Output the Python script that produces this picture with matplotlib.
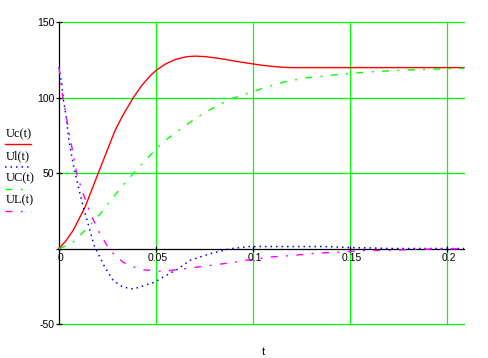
import matplotlib
matplotlib.use('Agg')
import matplotlib.pyplot as plt
import matplotlib.transforms as mtransforms
from matplotlib.lines import Line2D

# values
t_uc = [0, 0.0035, 0.0073, 0.0134, 0.0202, 0.0288, 0.0330, 0.0382, 0.0425, 0.0468, 0.0502,
        0.0550, 0.0600, 0.0656, 0.0700, 0.0750, 0.0800, 0.0850, 0.0900, 0.0950, 0.1000,
        0.1050, 0.1100, 0.1150, 0.1200, 0.1500, 0.2085]
uc = [0, 5, 12, 27.4, 49.9, 78, 88.5, 99.8, 107.8, 114.2, 118.2,
      122.3, 125.2, 127.0, 127.4, 127.1, 126.3, 125.4, 124.2, 123.2, 122.2,
      121.3, 120.6, 120.0, 119.8, 119.8, 119.8]

t_ul = [0, 0.0014, 0.0022, 0.0036, 0.0051, 0.0073, 0.0096, 0.0125, 0.0150, 0.0181,
        0.0194, 0.0236, 0.0279, 0.0330, 0.0385, 0.0450, 0.0493, 0.0536, 0.0613, 0.0673,
        0.0776, 0.0879, 0.0980, 0.1200, 0.1370, 0.1500, 0.1600, 0.1700, 0.2085]
ul = [120, 109, 99, 88, 71.5, 56, 42.8, 27.4, 16.3, 2,
      -1.5, -12.4, -21.2, -25.6, -26.8, -24, -22.3, -19, -13.5, -7.9,
      -3.5, -0.2, 1.3, 1.3, 1.3, 0.6, 0.4, 0, 0]

t_uC = [0, 0.0057, 0.0091, 0.0150, 0.0219, 0.0279, 0.0339, 0.0399, 0.0468, 0.0545,
        0.0622, 0.0699, 0.0785, 0.0879, 0.0973, 0.1076, 0.1170, 0.1273, 0.1393, 0.1512,
        0.1633, 0.1735, 0.1855, 0.1975, 0.2085]
uC = [0, 2.6, 6.4, 14.1, 24, 34, 43.3, 52.1, 61.6, 71.5,
      78.6, 85.9, 92.5, 98.8, 102.8, 107.3, 110.6, 113, 114.6, 116.1,
      117.2, 117.9, 118.5, 119, 119.3]

t_uL = [0, 0.0014, 0.0034, 0.0051, 0.0073, 0.0091, 0.0125, 0.0159, 0.0202, 0.0253,
        0.0288, 0.0330, 0.0416, 0.0536, 0.0639, 0.0750, 0.0879, 0.0980, 0.1084, 0.1204,
        0.1324, 0.1444, 0.1581, 0.1684, 0.1804, 0.1924, 0.2085]
uL = [120, 104.6, 90.3, 77, 62.7, 49.5, 36.2, 24, 11.9, 0.7,
      -4.6, -9.1, -13.9, -15.2, -13.5, -11.7, -9.5, -7.5, -5.7, -4.6,
      -3.1, -2.4, -1.3, -1.3, -0.7, -0.4, -0.2]

x_ticks = [0, 0.05, 0.1, 0.15, 0.2]
x_labels = ['0', '0.05', '0.1', '0.15', '0.2']
y_ticks = [-50, 0, 50, 100, 150]
y_labels = ['-50', '', '50', '100', '150']
names = ['Uc(t)', 'Ul(t)', 'UC(t)', 'UL(t)']

W, H = 488, 358
fig = plt.figure(figsize=(W / 100, H / 100), dpi=100)
ax = fig.add_axes([59 / W, 1 - 324 / H, (464 - 59) / W, (324 - 22) / H])

ax.set_xlim(0, 0.2085)
ax.set_ylim(-50, 150)

# grid
for x in x_ticks[1:]:
    ax.axvline(x, color='#00ff00', lw=0.9, zorder=1)
for y in [-50, 50, 100, 150]:
    ax.axhline(y, color='#00ff00', lw=0.9, zorder=1, clip_on=False)

# axes crossing at zero
for s in ['top', 'right']:
    ax.spines[s].set_visible(False)
ax.spines['bottom'].set_position(('data', 0))
ax.spines['left'].set_position(('data', 0))
ax.spines['bottom'].set_linewidth(0.9)
ax.spines['left'].set_linewidth(0.9)
ax.spines['bottom'].set_zorder(2)
ax.spines['left'].set_zorder(2)

ax.set_xticks(x_ticks)
ax.set_xticklabels(x_labels)
ax.set_yticks(y_ticks)
ax.set_yticklabels(y_labels)
ax.tick_params(direction='inout', length=5, width=0.9, labelsize=7.5, pad=1)
shift = mtransforms.ScaledTranslation(1.5 / 100, 0, fig.dpi_scale_trans)
for lab in ax.get_xticklabels():
    lab.set_transform(lab.get_transform() + shift)
for lab in ax.get_xticklabels() + ax.get_yticklabels():
    lab.set_fontfamily('Liberation Sans')

# curves
ax.plot(t_uc, uc, color='#ff0000', lw=1.0, zorder=3, clip_on=False)
ax.plot(t_ul, ul, color='#0000ff', lw=1.1, ls=(0, (1, 2.6)), zorder=3, clip_on=False)
ax.plot(t_uC, uC, color='#00ff00', lw=1.0, ls=(0, (5, 6, 1.5, 6)), zorder=3, clip_on=False)
ax.plot(t_uL, uL, color='#ff00ff', lw=1.0, ls=(0, (5, 6, 1.5, 6)), zorder=3, clip_on=False)

# legend stacked on the left like the original
styles = [dict(color='#ff0000', ls='-'),
          dict(color='#0000ff', ls=(0, (1, 2.6)), lw=1.1),
          dict(color='#00ff00', ls=(0, (5, 6, 1.5, 6))),
          dict(color='#ff00ff', ls=(0, (5, 6, 1.5, 6)))]
text_y = [134, 156, 178, 200]
line_y = [143.5, 166.5, 188.5, 210.5]
for name, st, ty, ly in zip(names, styles, text_y, line_y):
    fig.text(6 / W, 1 - ty / H, name, fontsize=9, family='Liberation Serif',
             ha='left', va='center')
    kw = dict(lw=1.0)
    kw.update(st)
    fig.add_artist(Line2D([5 / W, 31 / W], [1 - ly / H, 1 - ly / H], **kw))

fig.text(263 / W, 1 - 352 / H, 't', fontsize=8, family='Liberation Sans',
         ha='center', va='center')

fig.savefig('out.png', dpi=100)
